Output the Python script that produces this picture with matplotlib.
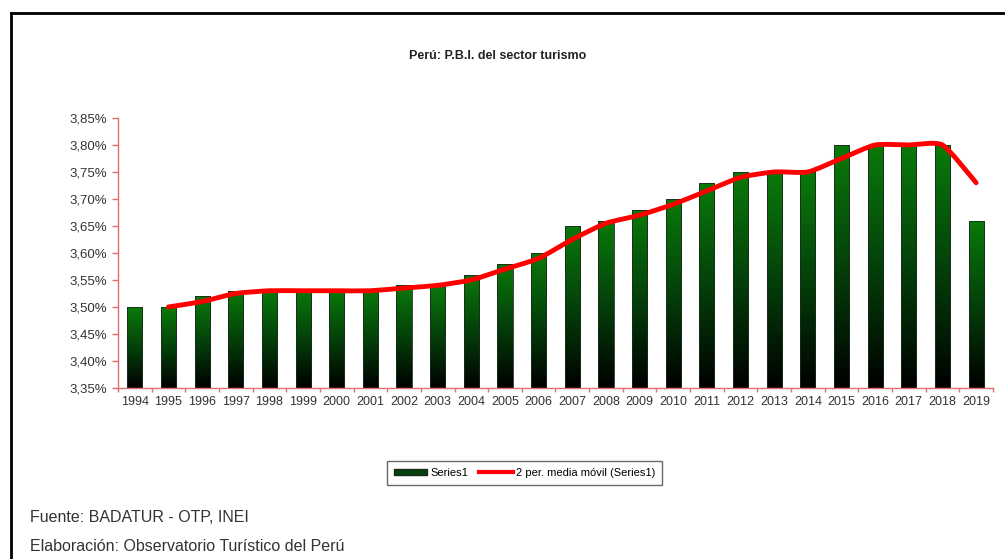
import matplotlib
matplotlib.use('Agg')
import matplotlib.pyplot as plt
import numpy as np
from matplotlib.path import Path
from matplotlib.patches import PathPatch
from matplotlib.lines import Line2D
from matplotlib.patches import Patch
from matplotlib.ticker import FuncFormatter

plt.rcParams['font.family'] = ['Liberation Sans Narrow', 'Liberation Sans', 'DejaVu Sans']

YEARS = ["1994", "1995", "1996", "1997", "1998", "1999", "2000", "2001", "2002",
         "2003", "2004", "2005", "2006", "2007", "2008", "2009", "2010", "2011",
         "2012", "2013", "2014", "2015", "2016", "2017", "2018", "2019"]
PBI = [3.50, 3.50, 3.52, 3.53, 3.53, 3.53, 3.53, 3.53, 3.54, 3.54, 3.56, 3.58, 3.60,
       3.65, 3.66, 3.68, 3.70, 3.73, 3.75, 3.75, 3.75, 3.80, 3.80, 3.80, 3.80, 3.66]
# media móvil de 2 periodos (empieza en 1995)
MEDIA = [3.500, 3.510, 3.525, 3.530, 3.530, 3.530, 3.530, 3.535, 3.540, 3.550,
         3.570, 3.590, 3.625, 3.655, 3.670, 3.690, 3.715, 3.740, 3.750, 3.750,
         3.775, 3.800, 3.800, 3.800, 3.730]

GREEN_TOP = '#0a7a0a'
RED_AXIS = '#e07070'


def smooth_path(xs, ys, t=0.1):
    # curva tipo Excel "línea suavizada" (Catmull-Rom -> Bézier)
    verts = [(xs[0], ys[0])]
    codes = [Path.MOVETO]
    n = len(xs)
    for i in range(n - 1):
        x0, y0 = (xs[i - 1], ys[i - 1]) if i > 0 else (xs[i], ys[i])
        x1, y1 = xs[i], ys[i]
        x2, y2 = xs[i + 1], ys[i + 1]
        x3, y3 = (xs[i + 2], ys[i + 2]) if i + 2 < n else (x2, y2)
        verts += [(x1 + (x2 - x0) * t, y1 + (y2 - y0) * t),
                  (x2 - (x3 - x1) * t, y2 - (y3 - y1) * t),
                  (x2, y2)]
        codes += [Path.CURVE4] * 3
    return Path(verts, codes)


fig = plt.figure(figsize=(10.05, 5.59), dpi=100)
ax = fig.add_axes([0.1174, 0.306, 0.8706, 0.483])

x = np.arange(len(YEARS))
ymin, ymax = 3.35, 3.85
bars = ax.bar(x, np.array(PBI) - ymin, bottom=ymin, width=0.45,
              color='none', edgecolor='#1a2a1a', linewidth=0.6, zorder=2)

# degradado verde -> negro dentro de cada barra
grad = np.linspace(0, 1, 256).reshape(-1, 1)
cmap = matplotlib.colors.LinearSegmentedColormap.from_list(
    'g', ['#000000', '#04400a', GREEN_TOP])
for b in bars:
    x0, y0 = b.get_x(), b.get_y()
    im = ax.imshow(grad, extent=[x0, x0 + b.get_width(), y0, y0 + b.get_height()],
                   origin='lower', cmap=cmap, aspect='auto', zorder=1.5)
    im.set_clip_path(b)

xm = x[1:]
ax.add_patch(PathPatch(smooth_path(xm, MEDIA), facecolor='none',
                       edgecolor='#ff0000', linewidth=3.5, zorder=3,
                       capstyle='round'))

ax.set_xlim(-0.5, len(YEARS) - 0.5)
ax.set_ylim(ymin, ymax)
ax.set_yticks(np.arange(3.35, 3.851, 0.05))
ax.yaxis.set_major_formatter(FuncFormatter(lambda v, p: f"{v:.2f}%".replace('.', ',')))
ax.set_xticks(x)
ax.set_xticklabels(YEARS)
ax.set_xticks(np.arange(-0.5, len(YEARS), 1), minor=True)

for s in ['top', 'right']:
    ax.spines[s].set_visible(False)
for s in ['left', 'bottom']:
    ax.spines[s].set_color(RED_AXIS)
    ax.spines[s].set_linewidth(1.0)
ax.tick_params(axis='y', colors=RED_AXIS, labelcolor='#333333', labelsize=9.5,
               length=4, width=1)
ax.tick_params(axis='x', which='major', length=0, labelcolor='#333333',
               labelsize=9, pad=6)
ax.tick_params(axis='x', which='minor', colors=RED_AXIS, length=3, width=1)

fig.text(0.495, 0.90, "Perú: P.B.I. del sector turismo", ha='center', va='center',
         fontsize=9, fontweight='bold', color='#222222')

handles = [Patch(facecolor='#04400a', edgecolor='#1a2a1a'),
           Line2D([0], [0], color='#ff0000', linewidth=3)]
leg = fig.legend(handles, ["Series1", "2 per. media móvil (Series1)"],
                 loc='center', bbox_to_anchor=(0.522, 0.154), ncol=2,
                 fontsize=8, frameon=True, fancybox=False, handlelength=3,
                 handleheight=0.5, columnspacing=1.0, handletextpad=0.3,
                 borderpad=0.6)
leg.get_frame().set_edgecolor('#444444')
leg.get_frame().set_linewidth(1.0)

fig.text(0.03, 0.075, "Fuente: BADATUR - OTP, INEI", fontsize=11.5,
         color='#333333', va='center')
fig.text(0.03, 0.022, "Elaboración: Observatorio Turístico del Perú", fontsize=11.5,
         color='#333333', va='center')

# marco exterior
fig.add_artist(Line2D([0.0105, 0.0105], [0.0, 0.977], color='black', linewidth=2,
                      transform=fig.transFigure))
fig.add_artist(Line2D([0.0105, 1.0], [0.977, 0.977], color='black', linewidth=2,
                      transform=fig.transFigure))

fig.savefig('out.png', dpi=100)
